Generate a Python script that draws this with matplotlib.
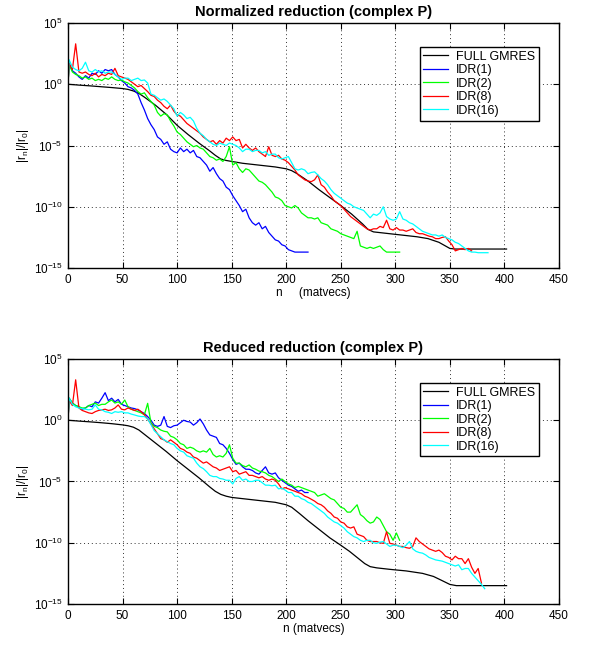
import numpy as np
import matplotlib.pyplot as plt

plt.rcParams['font.family'] = ['Liberation Sans', 'DejaVu Sans']
plt.rcParams['mathtext.fontset'] = 'custom'
plt.rcParams['mathtext.rm'] = 'Liberation Sans'

LABELS = ["FULL GMRES", "IDR(1)", "IDR(2)", "IDR(8)", "IDR(16)"]
COLORS = ["k", (0, 0, 1), (0, 1, 0), (1, 0, 0), (0, 1, 1)]

# IDR residuals are read at matvecs 1, 4, 7, ... (log10 of |r_n|/|r_0|),
# every curve starts at n=0 with |r_0|/|r_0| = 1
IDR_STEP = 3

# ---------- top panel: normalized reduction ----------
top_gmres_n = [0, 10, 20, 30, 40, 50, 55, 60, 65, 70, 80, 90, 100, 110, 120,
               130, 135, 140, 145, 150, 160, 170, 180, 190, 200, 205, 210, 220,
               230, 240, 250, 260, 270, 275, 280, 290, 300, 310, 320, 330, 340,
               345, 350, 355, 402]
top_gmres = [0.0, -0.07, -0.13, -0.2, -0.27, -0.35, -0.42, -0.55, -0.75, -1.05,
             -1.7, -2.45, -3.35, -4.1, -4.8, -5.45, -5.8, -6.1, -6.22, -6.3,
             -6.45, -6.55, -6.65, -6.75, -6.9, -7.05, -7.3, -7.9, -8.6, -9.25,
             -9.9, -10.6, -11.4, -11.85, -12.05, -12.15, -12.25, -12.35,
             -12.45, -12.6, -12.9, -13.15, -13.4, -13.45, -13.45]

top_idr1 = [1.7, 1.1, 0.9, 0.6, 0.4, 0.7, 0.5, 0.9, 0.8, 1.1, 0.9, 1.2, 1.1,
            1.2, 0.8, 0.6, 0.3, 0.1, -0.2, -0.3, -0.5, -0.8, -1.5, -2.1, -2.8,
            -3.3, -3.7, -4.3, -4.5, -4.9, -4.7, -5.3, -5.5, -5.6, -5.2, -5.5,
            -5.3, -5.6, -5.4, -5.9, -6.0, -6.3, -6.6, -7.1, -6.8, -7.3, -7.7,
            -7.9, -8.4, -8.6, -9.1, -9.5, -9.9, -10.4, -10.2, -10.9, -11.3,
            -11.5, -11.3, -11.8, -11.6, -12.1, -12.4, -12.7, -12.8, -13.1,
            -13.2, -13.5, -13.6, -13.7, -13.7, -13.7, -13.7, -13.7]

top_idr2 = [1.6, 1.0, 0.8, 0.7, 0.5, 0.6, 0.4, 0.5, 0.3, 0.4, 0.3, 0.5, 0.4,
            0.6, 0.4, 0.3, 0.35, 0.2, 0.1, -0.1, -0.3, -0.6, -0.8, -0.7, -1.1,
            -1.4, -1.7, -2.3, -2.6, -2.4, -2.5, -3.0, -3.4, -3.9, -4.1, -4.4,
            -4.7, -4.9, -5.1, -5.0, -5.2, -5.3, -5.6, -5.9, -6.0, -6.2, -6.1,
            -6.3, -5.9, -5.1, -6.6, -6.4, -6.9, -7.2, -6.9, -7.0, -7.3, -7.6,
            -7.9, -8.0, -8.2, -8.5, -8.8, -9.2, -9.3, -9.5, -9.9, -10.0, -10.1,
            -9.9, -10.1, -10.5, -10.7, -10.9, -10.9, -11.0, -10.9, -11.3,
            -11.4, -11.5, -11.8, -11.9, -12.0, -12.2, -12.3, -12.4, -12.5,
            -12.6, -12.0, -13.2, -13.3, -13.4, -13.3, -13.4, -13.3, -13.2,
            -13.5, -13.7, -13.7, -13.7, -13.7, -13.7]

top_idr8 = [1.7, 1.2, 3.3, 1.0, 0.9, 1.0, 0.8, 0.7, 0.9, 0.6, 0.8, 0.7, 0.9,
            0.8, 1.3, 0.7, 0.6, 0.5, 0.4, 0.2, 0.0, -0.2, -0.1, -0.35, -0.6,
            -0.9, -1.0, -1.3, -1.5, -1.8, -2.0, -1.7, -2.2, -2.5, -2.6, -2.9,
            -3.2, -3.4, -3.6, -3.8, -4.0, -4.3, -4.5, -4.7, -4.6, -4.9, -4.6,
            -4.8, -4.4, -4.6, -4.3, -4.6, -4.5, -5.2, -4.9, -5.2, -5.4, -5.2,
            -5.5, -5.7, -5.9, -5.1, -5.8, -5.9, -5.8, -6.1, -6.2, -6.4, -6.7,
            -7.0, -7.4, -7.6, -7.8, -7.9, -7.95, -7.8, -7.4, -8.2, -8.4, -8.8,
            -9.1, -9.5, -9.7, -9.9, -10.2, -10.5, -10.8, -11.0, -11.2, -11.4,
            -11.6, -11.8, -11.9, -11.8, -11.8, -11.6, -11.7, -11.1, -11.8,
            -11.9, -11.7, -11.9, -11.9, -12.0, -11.9, -11.8, -12.1, -12.2,
            -12.2, -12.3, -12.4, -12.45, -12.6, -12.6, -12.5, -12.45, -12.8,
            -13.1, -13.6, -13.5, -13.4, -13.5, -13.4, -13.6]

top_idr16 = [2.0, 1.4, 1.2, 1.1, 1.3, 1.8, 1.1, 1.0, 1.2, 1.0, 1.1, 0.9, 1.0,
             1.0, 0.8, 0.6, 0.4, 0.5, 0.5, 0.3, 0.4, 0.5, 0.3, 0.35, 0.1, -0.8,
             -0.9, -1.1, -1.3, -1.2, -1.4, -1.7, -2.0, -2.6, -2.3, -2.5, -2.8,
             -2.7, -3.0, -3.6, -4.0, -4.2, -4.5, -4.7, -4.9, -5.0, -4.8, -4.9,
             -5.0, -4.8, -4.9, -5.0, -5.2, -5.5, -5.3, -5.3, -5.5, -5.4, -5.4,
             -5.6, -5.5, -5.8, -5.7, -5.7, -6.0, -6.1, -6.0, -5.9, -6.4, -6.9,
             -7.0, -6.9, -7.0, -7.3, -7.2, -7.15, -7.4, -7.7, -7.9, -8.2,
             -8.6, -8.9, -9.1, -9.3, -9.5, -9.7, -9.8, -10.0, -10.1, -10.2,
             -10.3, -10.6, -10.9, -10.6, -10.7, -10.5, -10.0, -10.8, -11.0,
             -11.1, -11.0, -10.4, -11.0, -11.1, -11.3, -11.4, -11.6, -11.8,
             -12.0, -12.1, -12.2, -12.3, -12.3, -12.4, -12.3, -12.5, -12.6,
             -12.7, -12.9, -13.0, -13.2, -13.4, -13.6, -13.7, -13.7, -13.75,
             -13.75, -13.75, -13.75]

# ---------- bottom panel: reduced reduction ----------
bot_gmres_n = [0, 10, 20, 30, 40, 50, 55, 60, 65, 70, 80, 90, 100, 110, 120,
               130, 135, 140, 145, 150, 160, 170, 180, 190, 200, 205, 212, 220,
               230, 240, 250, 258, 265, 272, 277, 283, 295, 310, 325, 335, 342,
               350, 356, 402]
bot_gmres = [0.0, -0.07, -0.13, -0.2, -0.28, -0.38, -0.45, -0.57, -0.8, -1.15,
             -1.85, -2.55, -3.3, -4.0, -4.7, -5.45, -5.8, -6.05, -6.2, -6.3,
             -6.4, -6.5, -6.6, -6.7, -6.9, -7.1, -7.6, -8.2, -8.9, -9.6, -10.2,
             -10.7, -11.2, -11.7, -11.95, -12.05, -12.17, -12.3, -12.5, -12.75,
             -13.05, -13.4, -13.5, -13.5]

bot_idr1 = [1.8, 1.4, 1.2, 1.1, 0.9, 1.0, 1.2, 1.1, 1.5, 1.4, 1.8, 2.25, 1.6,
            1.8, 1.5, 1.7, 1.3, 1.2, 1.1, 1.0, 0.95, 0.85, 0.7, 0.55, 0.3, 0.0,
            -0.4, -0.5, -0.4, 0.3, -0.5, -0.6, -0.45, -0.4, -0.2, 0.0, -0.1,
            -0.15, -0.4, -0.2, 0.1, -0.3, -0.8, -1.2, -1.3, -1.4, -1.9, -2.0,
            -2.3, -2.7, -3.2, -3.6, -3.5, -3.8, -4.0, -4.0, -4.1, -4.3, -4.4,
            -4.1, -3.8, -4.3, -4.4, -4.3, -4.7, -4.9, -5.1, -5.3, -5.4, -5.6,
            -5.8, -5.7, -5.9, -5.9]

bot_idr2 = [1.8, 1.4, 1.2, 1.1, 1.0, 1.0, 1.2, 1.3, 1.4, 1.2, 1.3, 1.3, 1.5,
            1.65, 1.4, 1.5, 1.3, 1.65, 1.1, 0.9, 0.8, 0.7, 0.6, 0.45, 1.38,
            -0.2, -0.5, -0.6, -0.8, -0.9, -0.95, -1.3, -1.4, -1.6, -1.9, -2.0,
            -2.3, -2.2, -2.3, -2.5, -2.6, -2.5, -2.6, -2.3, -2.8, -3.0, -2.9,
            -3.0, -2.7, -2.0, -3.1, -3.5, -3.5, -3.7, -3.8, -3.65, -3.9, -4.0,
            -4.15, -4.2, -4.3, -4.5, -4.6, -4.8, -5.0, -4.8, -5.0, -5.2, -5.3,
            -5.5, -5.4, -5.5, -5.6, -5.7, -5.8, -5.9, -6.2, -6.1, -6.0, -6.2,
            -6.4, -6.5, -6.8, -7.1, -7.2, -7.5, -7.5, -7.2, -6.9, -7.7, -7.9,
            -8.2, -8.4, -8.3, -7.9, -8.1, -8.6, -9.1, -9.3, -9.8, -9.2, -9.8]

bot_idr8 = [1.6, 1.2, 3.3, 1.0, 0.8, 0.7, 0.6, 0.55, 0.7, 0.8, 0.85, 0.9, 0.8,
            0.85, 1.0, 1.25, 0.9, 0.85, 1.0, 0.9, 0.8, 0.9, 0.7, 0.45, 0.1,
            -0.3, -0.7, -1.1, -1.5, -1.6, -1.8, -1.6, -1.8, -2.0, -2.3, -2.4,
            -2.6, -2.7, -3.0, -3.1, -3.3, -3.5, -3.4, -3.6, -3.8, -3.9, -4.1,
            -4.0, -3.9, -3.8, -4.2, -4.1, -4.4, -4.3, -4.2, -4.5, -4.5, -4.6,
            -4.7, -4.6, -4.8, -4.9, -4.8, -4.9, -5.2, -5.6, -5.5, -5.6, -5.7,
            -5.8, -5.9, -6.0, -6.2, -6.3, -6.45, -6.6, -6.8, -6.9, -7.1, -7.4,
            -7.6, -7.9, -8.0, -8.3, -8.4, -8.7, -8.8, -8.7, -9.3, -9.4, -9.5,
            -9.8, -9.9, -9.9, -9.9, -10.0, -10.05, -9.1, -10.05, -10.1, -10.2,
            -10.3, -10.3, -10.4, -10.45, -10.3, -9.6, -9.9, -10.1, -10.3,
            -10.5, -10.6, -10.7, -10.6, -10.8, -11.1, -11.2, -11.4, -11.1,
            -11.3, -11.3, -11.7, -11.3, -12.0, -12.5, -12.1, -13.3]

bot_idr16 = [1.8, 1.3, 1.1, 1.0, 0.95, 0.9, 0.85, 0.9, 1.25, 0.9, 0.85, 0.7,
             0.65, 0.55, 0.7, 0.65, 0.7, 0.6, 0.6, 0.5, 0.43, 0.35, 0.3, 0.3,
             0.1, -0.35, -0.85, -1.1, -1.35, -1.6, -1.75, -1.9, -2.0, -2.3,
             -2.5, -2.6, -2.9, -3.0, -3.1, -3.5, -3.8, -3.95, -4.2, -4.5, -4.6,
             -4.6, -4.75, -4.8, -4.9, -4.9, -5.2, -4.75, -4.6, -4.9, -4.8,
             -5.0, -5.0, -4.9, -4.9, -5.1, -5.3, -5.3, -5.35, -5.3, -5.6,
             -5.55, -5.7, -5.9, -5.9, -6.2, -6.2, -6.4, -6.5, -6.7, -6.8,
             -7.0, -7.2, -7.4, -7.6, -7.9, -8.1, -8.3, -8.4, -8.6, -8.8, -9.1,
             -9.3, -9.5, -9.6, -9.8, -9.9, -9.8, -9.8, -10.0, -10.05, -9.95,
             -9.9, -10.1, -10.3, -10.2, -10.2, -10.3, -10.4, -10.2, -9.9,
             -10.5, -10.7, -10.8, -10.85, -11.0, -11.2, -11.3, -11.4, -11.45,
             -11.5, -11.6, -11.7, -11.8, -11.9, -11.8, -12.2, -12.1, -12.1,
             -12.5, -12.8, -13.1, -13.4, -13.75]

PANELS = [
    ("Normalized reduction (complex P)", "n     (matvecs)",
     top_gmres_n, top_gmres, [top_idr1, top_idr2, top_idr8, top_idr16]),
    ("Reduced reduction (complex P)", "n (matvecs)",
     bot_gmres_n, bot_gmres, [bot_idr1, bot_idr2, bot_idr8, bot_idr16]),
]


def idr_curve(exps):
    # prepend the starting point (n=0, ratio 1)
    n = np.concatenate([[0], 1 + IDR_STEP * np.arange(len(exps))])
    e = np.concatenate([[0.0], exps])
    return n, 10.0 ** e


def draw(ax, title, xlabel, gn, gexp, idrs):
    ax.semilogy(gn, 10.0 ** np.array(gexp), color=COLORS[0], lw=0.9,
                label=LABELS[0])
    for exps, col, lab in zip(idrs, COLORS[1:], LABELS[1:]):
        n, r = idr_curve(exps)
        ax.semilogy(n, r, color=col, lw=0.9, label=lab)

    ax.set_xlim(0, 450)
    ax.set_ylim(1e-15, 1e5)
    ax.set_xticks(np.arange(0, 451, 50))
    ax.set_yticks([1e-15, 1e-10, 1e-5, 1e0, 1e5])
    ax.yaxis.set_minor_locator(plt.NullLocator())
    ax.tick_params(direction='in', top=True, right=True, length=4,
                   width=0.8, labelsize=8.5, pad=4)
    ax.grid(True, ls=(0, (1, 3)), color='#333333', lw=0.7)
    for s in ax.spines.values():
        s.set_linewidth(1.0)

    ax.set_title(title, fontsize=10.5, fontweight='bold', pad=5)
    ax.set_xlabel(xlabel, fontsize=8.5, labelpad=1)
    ax.set_ylabel(r'$\mathregular{|r_n|/|r_0|}$', fontsize=8.5, labelpad=2)

    leg = ax.legend(loc='upper right', bbox_to_anchor=(0.959, 0.902),
                    borderaxespad=0, fancybox=False, framealpha=1,
                    fontsize=9, handlelength=2.0, handletextpad=0.6,
                    labelspacing=0.12, borderpad=0.3)
    leg.get_frame().set_edgecolor('k')
    leg.get_frame().set_linewidth(1.0)


fig = plt.figure(figsize=(5.9, 6.46), dpi=100)
ax1 = fig.add_axes([0.1153, 0.5851, 0.832, 0.3793])
ax2 = fig.add_axes([0.1153, 0.0650, 0.832, 0.3793])

for ax, p in zip([ax1, ax2], PANELS):
    draw(ax, *p)

fig.savefig("out.png", dpi=100)
